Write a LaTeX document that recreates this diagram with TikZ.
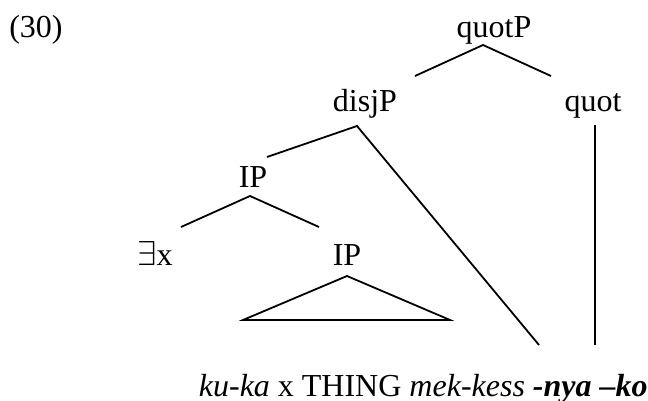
\documentclass[tikz,border=0pt]{standalone}
\usepackage{fontspec}
\setmainfont{Liberation Serif}
\begin{document}
\begin{tikzpicture}[x=0.5pt,y=-0.5pt,line width=0.9pt,
  lbl/.style={anchor=base,inner sep=0pt,font=\fontsize{16}{19}\selectfont}]
  \useasboundingbox (0,0) rectangle (648,401);
  % labels
  \node[lbl] (num) at (36,38) {(30)};
  \node[lbl] (quotP) at (494,38) {quotP};
  \node[lbl] (disjP) at (365,112) {disjP};
  \node[lbl] (quot) at (593,112) {quot};
  \node[lbl] (ipA) at (253,187) {IP};
  \node[lbl] (exx) at (155,265) {$\exists$x};
  \node[lbl] (ipB) at (347,265) {IP};
  \node[lbl,anchor=base west] (gloss) at (198,396)
    {\textit{ku-ka} x THING \textit{mek-kess} \textbf{\textit{-nya --ko}}};
  % branch ends
  \coordinate (quotP-a) at (483,45);
  \coordinate (disjP-t) at (415,76);
  \coordinate (quot-t) at (551,76);
  \coordinate (disjP-a) at (357,126);
  \coordinate (ipA-t) at (267,157);
  \coordinate (nya-t) at (539,345);
  \coordinate (quot-a) at (595,125);
  \coordinate (ko-t) at (595,345);
  \coordinate (ipA-a) at (250,196);
  \coordinate (exx-t) at (181,227);
  \coordinate (ipB-t) at (319,227);
  \coordinate (ipB-a) at (347,276);
  \coordinate (tri-l) at (243,320);
  \coordinate (tri-r) at (450,320);
  % branches
  \draw (disjP-t) -- (quotP-a) -- (quot-t);
  \draw (ipA-t) -- (disjP-a) -- (nya-t);
  \draw (quot-a) -- (ko-t);
  \draw (exx-t) -- (ipA-a) -- (ipB-t);
  \draw (ipB-a) -- (tri-l) -- (tri-r) -- cycle;
\end{tikzpicture}
\end{document}
